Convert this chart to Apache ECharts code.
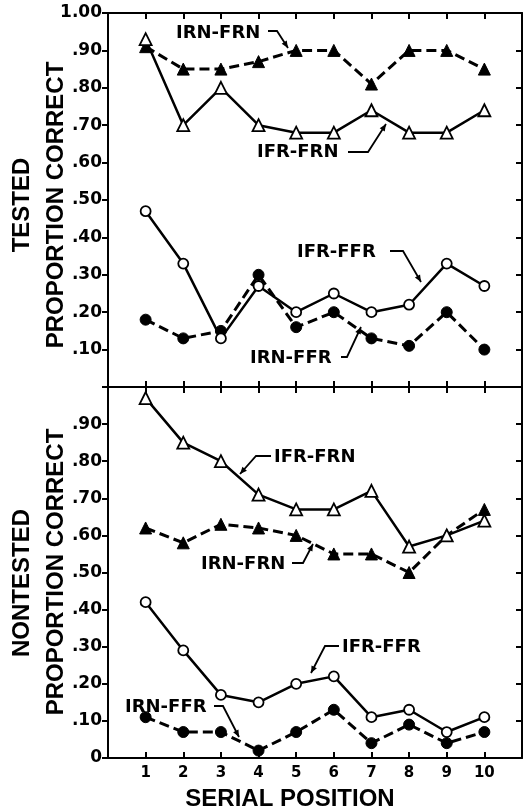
<!DOCTYPE html>
<html>
<head>
<meta charset="utf-8">
<script src="https://cdn.jsdelivr.net/npm/echarts@6/dist/echarts.min.js"></script>
<style>
html,body{margin:0;padding:0;background:#fff;}
#chart{width:524px;height:809px;}
</style>
</head>
<body>
<div id="chart"></div>
<script>
// ---- data ----
const positions = [1, 2, 3, 4, 5, 6, 7, 8, 9, 10];
const xTickLabels = ['1', '2', '3', '4', '5', '6', '7', '8', '9', '10'];
const yTopTickLabels = ['', '.10', '.20', '.30', '.40', '.50', '.60', '.70', '.80', '.90', '1.00'];
const yBottomTickLabels = ['0', '.10', '.20', '.30', '.40', '.50', '.60', '.70', '.80', '.90', ''];

// Tested panel
const testedIFR_FRN = [0.93, 0.70, 0.80, 0.70, 0.68, 0.68, 0.74, 0.68, 0.68, 0.74];
const testedIRN_FRN = [0.91, 0.85, 0.85, 0.87, 0.90, 0.90, 0.81, 0.90, 0.90, 0.85];
const testedIFR_FFR = [0.47, 0.33, 0.13, 0.27, 0.20, 0.25, 0.20, 0.22, 0.33, 0.27];
const testedIRN_FFR = [0.18, 0.13, 0.15, 0.30, 0.16, 0.20, 0.13, 0.11, 0.20, 0.10];

// Nontested panel
const nontestedIFR_FRN = [0.97, 0.85, 0.80, 0.71, 0.67, 0.67, 0.72, 0.57, 0.60, 0.64];
const nontestedIRN_FRN = [0.62, 0.58, 0.63, 0.62, 0.60, 0.55, 0.55, 0.50, 0.60, 0.67];
const nontestedIFR_FFR = [0.42, 0.29, 0.17, 0.15, 0.20, 0.22, 0.11, 0.13, 0.07, 0.11];
const nontestedIRN_FFR = [0.11, 0.07, 0.07, 0.02, 0.07, 0.13, 0.04, 0.09, 0.04, 0.07];

// ---- chart ----
const FONT = '"DejaVu Sans", "Liberation Sans", sans-serif';
const chart = echarts.init(document.getElementById('chart'), null, {renderer: 'canvas'});

function pairs(vals) { return positions.map((p, i) => [p, vals[i]]); }

const axisLineStyle = {show: true, onZero: false, lineStyle: {color: '#000', width: 2}};
function xAx(grid, pos, labels) {
  return {
    gridIndex: grid, type: 'value', position: pos, min: 0, max: 11, interval: 1,
    axisLine: axisLineStyle,
    axisTick: {show: true, inside: true, length: 6, lineStyle: {color: '#000', width: 2}},
    axisLabel: labels ? {
      show: true, margin: 8, color: '#000', fontFamily: FONT, fontWeight: 'bold', fontSize: 15,
      formatter: v => (v >= 1 && v <= 10) ? xTickLabels[Math.round(v) - 1] : ''
    } : {show: false},
    splitLine: {show: false}
  };
}
function yAx(grid, pos, labels) {
  return {
    gridIndex: grid, type: 'value', position: pos, min: 0, max: 1, interval: 0.1,
    axisLine: axisLineStyle,
    axisTick: {show: true, inside: pos === 'right', length: 6, lineStyle: {color: '#000', width: 2}},
    axisLabel: labels ? {
      show: true, margin: 6, color: '#000', fontFamily: FONT, fontWeight: 'bold', fontSize: 17,
      formatter: v => labels[Math.round(v * 10)]
    } : {show: false},
    splitLine: {show: false}
  };
}

function lineSeries(xi, yi, vals, kind) {
  const dashed = kind === 'filledTri' || kind === 'filledCircle';
  const tri = kind === 'openTri' || kind === 'filledTri';
  const filled = kind === 'filledTri' || kind === 'filledCircle';
  return {
    type: 'line', xAxisIndex: xi, yAxisIndex: yi, data: pairs(vals),
    symbol: tri ? 'triangle' : 'circle',
    symbolSize: tri ? 12 : (filled ? 11 : 10),
    showAllSymbol: true,
    lineStyle: {color: '#000', width: dashed ? 3 : 2.5, type: dashed ? [10, 5] : 'solid'},
    itemStyle: {color: filled ? '#000' : '#fff', borderColor: '#000', borderWidth: filled ? 1 : 1.8},
    emphasis: {disabled: true},
    z: filled ? 2 : 3
  };
}

// annotation helpers
const annFont = 'bold 18px ' + FONT;
function label(text, x, y) {
  return {type: 'text', z: 10, style: {text: text, x: x, y: y, font: annFont, fill: '#000',
    textAlign: 'left', textVerticalAlign: 'middle', align: 'left', verticalAlign: 'middle'}};
}
function leader(pts) {
  const n = pts.length;
  const [x1, y1] = pts[n - 2], [x2, y2] = pts[n - 1];
  const ang = Math.atan2(y2 - y1, x2 - x1);
  const L = 7, W = 3;
  const bx = x2 - L * Math.cos(ang), by = y2 - L * Math.sin(ang);
  const head = [[x2, y2],
    [bx + W * Math.sin(ang), by - W * Math.cos(ang)],
    [bx - W * Math.sin(ang), by + W * Math.cos(ang)]];
  return [
    {type: 'polyline', z: 10, shape: {points: pts}, style: {stroke: '#000', lineWidth: 1.8, fill: null}},
    {type: 'polygon', z: 10, shape: {points: head}, style: {fill: '#000'}}
  ];
}
function vtitle(text, x, y, size) {
  return {type: 'text', z: 10, x: x, y: y, rotation: Math.PI / 2,
    style: {text: text, x: 0, y: 0, font: 'bold ' + size + 'px "Liberation Sans", Arial, sans-serif', fill: '#000',
      textAlign: 'center', textVerticalAlign: 'middle', align: 'center', verticalAlign: 'middle'}};
}

const graphics = [].concat(
  // tested panel annotations
  [label('IRN-FRN', 176, 33)], leader([[268, 31], [277, 31], [288, 48]]),
  [label('IFR-FRN', 257, 152)], leader([[348, 152], [368, 152], [386, 124]]),
  [label('IFR-FFR', 297, 252)], leader([[390, 251], [403, 251], [421, 282]]),
  [label('IRN-FFR', 250, 358)], leader([[341, 357], [347, 357], [361, 327]]),
  // nontested panel annotations
  [label('IFR-FRN', 274, 457)], leader([[271, 456], [256, 456], [240, 474]]),
  [label('IRN-FRN', 201, 564)], leader([[292, 563], [303, 563], [313, 544]]),
  [label('IFR-FFR', 342, 647)], leader([[339, 646], [325, 646], [311, 673]]),
  [label('IRN-FFR', 125, 707)], leader([[214, 706], [223, 706], [239, 737]]),
  // axis titles
  [vtitle('TESTED', 22, 205, 24), vtitle('PROPORTION CORRECT', 56, 205, 24),
   vtitle('NONTESTED', 22, 583, 24), vtitle('PROPORTION CORRECT', 56, 572, 24),
   {type: 'text', z: 10, style: {text: 'SERIAL POSITION', x: 290, y: 799,
     font: 'bold 24px "Liberation Sans", Arial, sans-serif', fill: '#000',
     textAlign: 'center', textVerticalAlign: 'middle', align: 'center', verticalAlign: 'middle'}}]
);

const option = {
  animation: false,
  backgroundColor: '#fff',
  grid: [
    {left: 108, top: 13, width: 414, height: 374, outerBoundsMode: 'none', containLabel: false},
    {left: 108, top: 387, width: 414, height: 371, outerBoundsMode: 'none', containLabel: false}
  ],
  xAxis: [xAx(0, 'bottom', false), xAx(0, 'top', false), xAx(1, 'bottom', true), xAx(1, 'top', false)],
  yAxis: [yAx(0, 'left', yTopTickLabels), yAx(0, 'right', null), yAx(1, 'left', yBottomTickLabels), yAx(1, 'right', null)],
  series: [
    lineSeries(0, 0, testedIRN_FRN, 'filledTri'),
    lineSeries(0, 0, testedIFR_FRN, 'openTri'),
    lineSeries(0, 0, testedIRN_FFR, 'filledCircle'),
    lineSeries(0, 0, testedIFR_FFR, 'openCircle'),
    lineSeries(2, 2, nontestedIRN_FRN, 'filledTri'),
    lineSeries(2, 2, nontestedIFR_FRN, 'openTri'),
    lineSeries(2, 2, nontestedIRN_FFR, 'filledCircle'),
    lineSeries(2, 2, nontestedIFR_FFR, 'openCircle')
  ],
  graphic: graphics
};
chart.setOption(option);
</script>
</body>
</html>
